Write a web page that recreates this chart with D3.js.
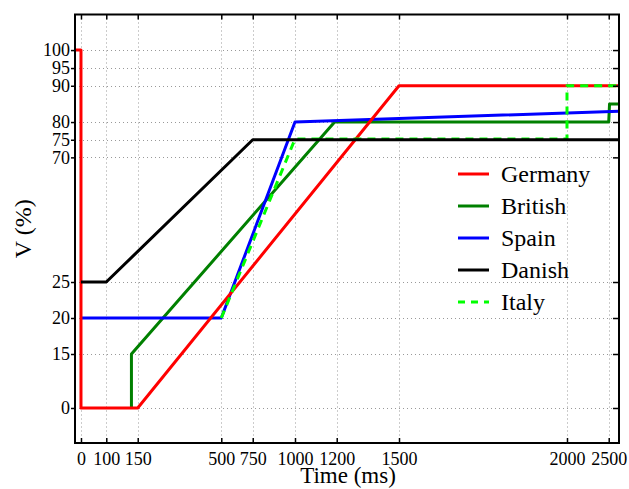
<!DOCTYPE html>
<html>
<head>
<meta charset="utf-8">
<script src="https://cdn.jsdelivr.net/npm/d3@7"></script>
<style>
  html, body { margin: 0; padding: 0; background: #fff; }
  svg { display: block; font-family: "Liberation Serif", "Times New Roman", serif; }
</style>
</head>
<body>
<svg id="chart" width="629" height="489"></svg>
<script>
// ---- data ----
const xTicks = [0, 100, 150, 500, 750, 1000, 1200, 1500, 2000, 2500];
const yTicks = [0, 15, 20, 25, 70, 75, 80, 90, 95, 100];
const xLimits = [-24, 2625];
const yLimits = [-9.7, 109.7];

const seriesNames = ["Germany", "British", "Spain", "Danish", "Italy"];
const germanyT = [-20, 0, 0, 150, 1500, 2625];
const germanyV = [100, 100, 0, 0, 90, 90];
const britishT = [140, 140, 1190, 2500, 2510, 2625];
const britishV = [0, 15, 80, 80, 85, 85];
const spainT = [0, 500, 1000, 2625];
const spainV = [20, 20, 80, 83];
const danishT = [0, 100, 750, 2625];
const danishV = [25, 25, 75, 75];
const italyT = [500, 1000, 2000, 2000, 2625];
const italyV = [20, 75.2, 75.2, 90, 90];

// ---- layout ----
const svg = d3.select("#chart");
const mLeft = 75, mRight = 619, mTop = 14.5, mBottom = 443;
const W = mRight - mLeft, H = mBottom - mTop;

// Non-uniform axes (custom tick spacing in the original figure): piecewise-linear scales
const xFrac = [0, 0.011, 0.0575, 0.1153, 0.2689, 0.3267, 0.4044, 0.4811, 0.5956, 0.9044, 0.9811, 1];
const yFrac = [0, 0.0817, 0.2077, 0.2917, 0.3757, 0.6666, 0.7077, 0.749, 0.8337, 0.875, 0.917, 1];
const x = d3.scaleLinear()
  .domain([xLimits[0], ...xTicks, xLimits[1]])
  .range(xFrac.map(f => mLeft + f * W));
const y = d3.scaleLinear()
  .domain([yLimits[0], ...yTicks, yLimits[1]])
  .range(yFrac.map(f => mBottom - f * H));

// ---- grid ----
const grid = svg.append("g").attr("stroke", "#999").attr("stroke-width", 1)
  .attr("stroke-dasharray", "1,3");
grid.selectAll("line.vx").data(xTicks).join("line").attr("class", "vx")
  .attr("x1", d => Math.round(x(d)) + 0.5).attr("x2", d => Math.round(x(d)) + 0.5)
  .attr("y1", mTop).attr("y2", mBottom);
grid.selectAll("line.hy").data(yTicks).join("line").attr("class", "hy")
  .attr("y1", d => Math.round(y(d)) + 0.5).attr("y2", d => Math.round(y(d)) + 0.5)
  .attr("x1", mLeft).attr("x2", mRight);

// ---- series ----
const colors = { Germany: "#ff0000", British: "#008000", Spain: "#0000ff", Danish: "#000000", Italy: "#00ff00" };
const dataMap = {
  Germany: d3.zip(germanyT, germanyV),
  British: d3.zip(britishT, britishV),
  Spain: d3.zip(spainT, spainV),
  Danish: d3.zip(danishT, danishV),
  Italy: d3.zip(italyT, italyV)
};
const line = d3.line().x(d => x(d[0])).y(d => y(d[1]));
svg.append("clipPath").attr("id", "clip").append("rect")
  .attr("x", mLeft).attr("y", mTop).attr("width", W).attr("height", H);
const drawOrder = ["British", "Spain", "Germany", "Italy", "Danish"];
const plot = svg.append("g").attr("clip-path", "url(#clip)");
drawOrder.forEach(name => {
  plot.append("path")
    .attr("d", line(dataMap[name]))
    .attr("fill", "none")
    .attr("stroke", colors[name])
    .attr("stroke-width", 3)
    .attr("stroke-linejoin", "round")
    .attr("stroke-dasharray", name === "Italy" ? "8,6" : null);
});

// ---- axes ----
const tickFont = 18;
const xAxisG = svg.append("g").attr("transform", `translate(0,${mBottom})`)
  .call(d3.axisBottom(x).tickValues(xTicks).tickFormat(d3.format("d")).tickSizeInner(-5).tickSizeOuter(0).tickPadding(9));
const xAxisTop = svg.append("g").attr("transform", `translate(0,${mTop})`)
  .call(d3.axisTop(x).tickValues(xTicks).tickFormat("").tickSizeInner(-5).tickSizeOuter(0));
const yAxisG = svg.append("g").attr("transform", `translate(${mLeft},0)`)
  .call(d3.axisLeft(y).tickValues(yTicks).tickFormat(d3.format("d")).tickSizeInner(4).tickSizeOuter(0).tickPadding(1));
const yAxisRight = svg.append("g").attr("transform", `translate(${mRight},0)`)
  .call(d3.axisRight(y).tickValues(yTicks).tickFormat("").tickSizeInner(-6).tickSizeOuter(0));
[xAxisG, xAxisTop, yAxisG, yAxisRight].forEach(g => {
  g.select(".domain").remove();
  g.selectAll(".tick line").attr("stroke", "#000").attr("stroke-width", 1.5);
  g.selectAll("text").attr("font-size", tickFont).attr("fill", "#000")
    .attr("font-family", "'Liberation Serif', 'Times New Roman', serif");
});

// frame
svg.append("rect").attr("x", mLeft).attr("y", mTop).attr("width", W).attr("height", H)
  .attr("fill", "none").attr("stroke", "#000").attr("stroke-width", 2);

// axis titles
svg.append("text").attr("x", (mLeft + mRight) / 2 + 1).attr("y", 483)
  .attr("text-anchor", "middle").attr("font-size", 23).text("Time (ms)");
svg.append("text").attr("transform", `translate(31,${(mTop + mBottom) / 2}) rotate(-90)`)
  .attr("text-anchor", "middle").attr("font-size", 24).text("V (%)");

// ---- legend ----
const legend = svg.append("g");
seriesNames.forEach((name, i) => {
  const ly = 174 + i * 32;
  legend.append("line").attr("x1", 458).attr("x2", 489).attr("y1", ly).attr("y2", ly)
    .attr("stroke", colors[name]).attr("stroke-width", 3)
    .attr("stroke-dasharray", name === "Italy" ? "7,6" : null);
  legend.append("text").attr("x", 501).attr("y", ly).attr("dy", "0.35em")
    .attr("font-size", 24).text(name);
});
</script>
</body>
</html>
